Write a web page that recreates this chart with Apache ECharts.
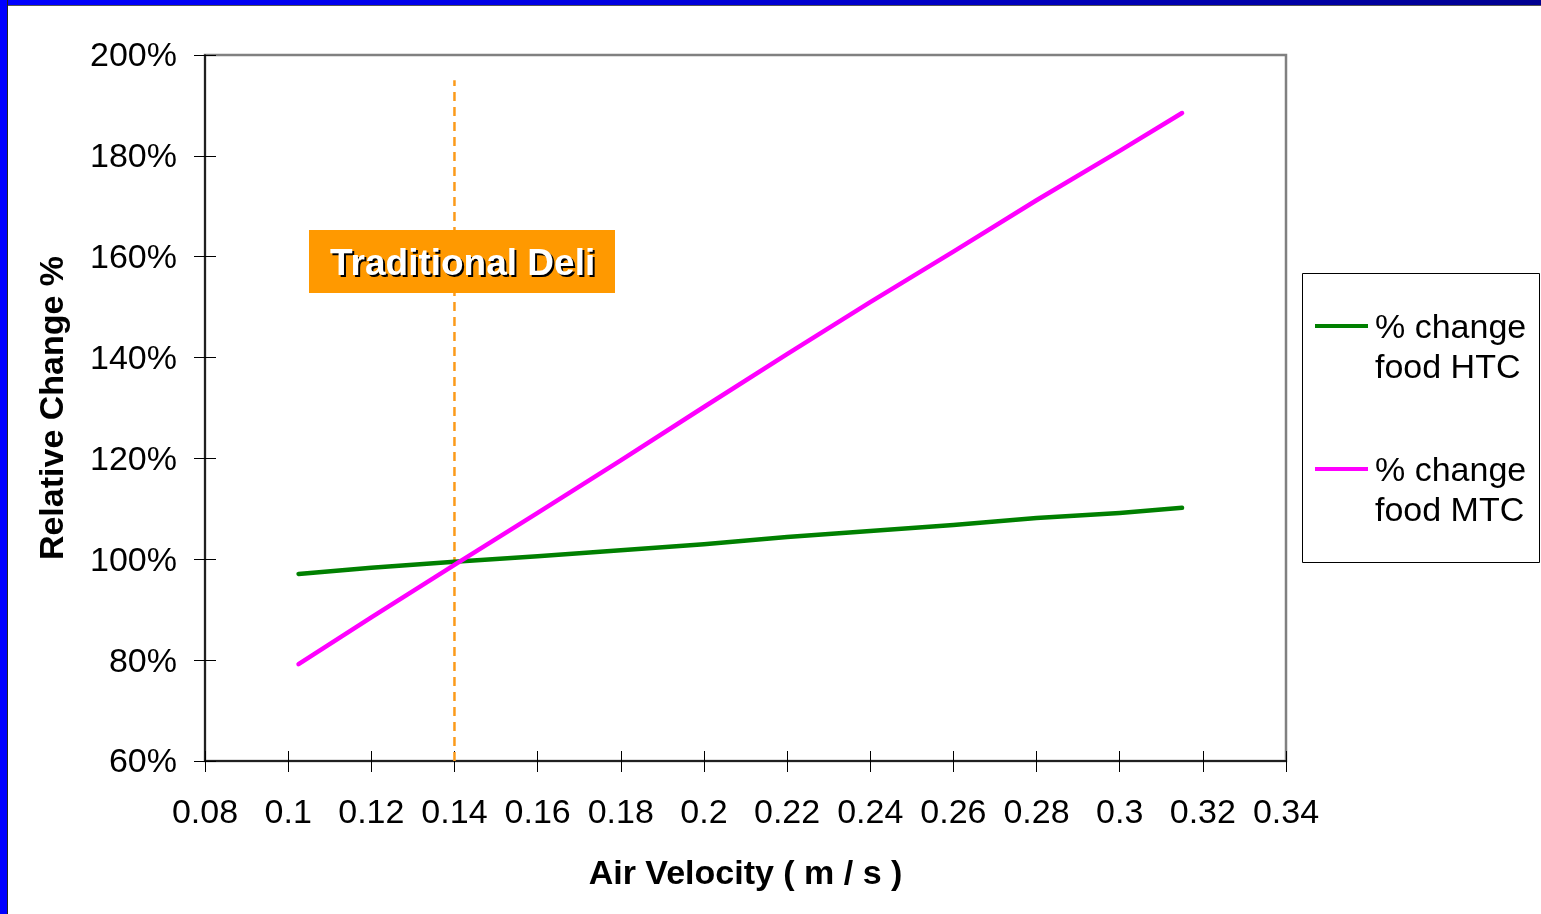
<!DOCTYPE html>
<html>
<head>
<meta charset="utf-8">
<script src="https://cdn.jsdelivr.net/npm/echarts@6/dist/echarts.min.js"></script>
<style>
html,body{margin:0;padding:0;background:#fff;}
#wrap{position:relative;width:1541px;height:914px;overflow:hidden;background:#fff;}
#chart{position:absolute;left:0;top:0;width:1541px;height:914px;}
#topbar{position:absolute;left:0;top:0;width:1541px;height:5px;background:linear-gradient(to right,#0000ff 0%,#0000e0 40%,#000090 100%);border-bottom:1px solid #555;z-index:2;}
#leftbar{position:absolute;left:0;top:0;width:7px;height:914px;background:#0000ff;border-right:1px solid #222;z-index:2;}
</style>
</head>
<body>
<div id="wrap">
<div id="chart"></div>
<div id="topbar"></div>
<div id="leftbar"></div>
</div>
<script>
// ---- data ----
const velocities = [0.1025, 0.12, 0.14, 0.16, 0.18, 0.2, 0.22, 0.24, 0.26, 0.28, 0.3, 0.315];
const htcChange = [97.1, 98.3, 99.5, 100.6, 101.8, 103.0, 104.4, 105.6, 106.8, 108.2, 109.2, 110.2];
const mtcChange = [79.2, 88.5, 98.9, 109.2, 119.6, 130.2, 140.7, 151.0, 161.0, 171.2, 181.0, 188.5];
const seriesNames = ['% change\nfood HTC', '% change\nfood MTC'];
const seriesColors = ['#008000', '#ff00ff'];
const delliVelocity = 0.14;
const delliLineTop = 195;
const annotationText = 'Traditional Deli';
const xTitle = 'Air Velocity ( m / s )';
const yTitle = 'Relative Change %';

const FONT = 'Arial, "Liberation Sans", sans-serif';
const chart = echarts.init(document.getElementById('chart'));

const pairs = arr => velocities.map((v, i) => [v, arr[i]]);

const option = {
  animation: false,
  backgroundColor: '#fff',
  grid: {left: 205, right: 255, top: 55, bottom: 153, show: true, borderColor: '#808080', borderWidth: 2.5, backgroundColor: 'transparent'},
  xAxis: [{
    type: 'value', min: 0.08, max: 0.34, interval: 0.02,
    name: xTitle, nameLocation: 'middle', nameGap: 97,
    nameTextStyle: {fontFamily: FONT, fontSize: 34, fontWeight: 'bold', color: '#000'},
    axisLine: {show: true, onZero: false, lineStyle: {color: '#000', width: 1.5}},
    axisTick: {show: true, inside: false, length: 11, lineStyle: {color: '#000', width: 1}},
    axisLabel: {fontFamily: FONT, fontSize: 34, color: '#000', margin: 36, formatter: v => String(+v.toFixed(2))},
    splitLine: {show: false}
  }, {
    type: 'value', min: 0.08, max: 0.34, interval: 0.02, position: 'bottom',
    axisLine: {show: false}, axisLabel: {show: false}, splitLine: {show: false},
    axisTick: {show: true, inside: true, length: 10, lineStyle: {color: '#000', width: 1}}
  }],
  yAxis: [{
    type: 'value', min: 60, max: 200, interval: 20,
    name: yTitle, nameLocation: 'middle', nameGap: 134, nameRotate: 90,
    nameTextStyle: {fontFamily: FONT, fontSize: 34, fontWeight: 'bold', color: '#000'},
    axisLine: {show: true, onZero: false, lineStyle: {color: '#000', width: 1.5}},
    axisTick: {show: true, inside: false, length: 11, lineStyle: {color: '#000', width: 1}},
    axisLabel: {fontFamily: FONT, fontSize: 34, color: '#000', margin: 28, verticalAlign: 'top', lineHeight: 4, formatter: '{value}%'},
    splitLine: {show: false}
  }, {
    type: 'value', min: 60, max: 200, interval: 20, position: 'left',
    axisLine: {show: false}, axisLabel: {show: false}, splitLine: {show: false},
    axisTick: {show: true, inside: true, length: 11, lineStyle: {color: '#000', width: 1}}
  }],
  series: [
    {
      name: 'Traditional Deli', type: 'line', silent: true, showSymbol: false, symbol: 'none',
      data: [[delliVelocity, 60], [delliVelocity, delliLineTop]],
      lineStyle: {color: '#fb9a1a', width: 2.5, type: [9, 6]}, z: 1
    },
    {
      name: seriesNames[0], type: 'line', showSymbol: false, symbol: 'none',
      data: pairs(htcChange), lineStyle: {color: seriesColors[0], width: 4.5, cap: 'round', join: 'round'}, z: 3
    },
    {
      name: seriesNames[1], type: 'line', showSymbol: false, symbol: 'none',
      data: pairs(mtcChange), lineStyle: {color: seriesColors[1], width: 4.5, cap: 'round', join: 'round'}, z: 3
    }
  ],
  graphic: [
    // annotation box
    {type: 'rect', left: 309, top: 230, shape: {width: 306, height: 63}, style: {fill: '#ff9900'}, z: 10},
    {type: 'text', left: 332, top: 248, z: 11,
      style: {text: annotationText, fontFamily: FONT, fontSize: 37, fontWeight: 'bold', fill: '#000'}},
    {type: 'text', left: 330, top: 246, z: 12,
      style: {text: annotationText, fontFamily: FONT, fontSize: 37, fontWeight: 'bold', fill: '#fff'}},
    // legend
    {type: 'rect', left: 1302, top: 273, shape: {width: 237, height: 289}, style: {fill: '#fff', stroke: '#000', lineWidth: 1}, z: 10},
    {type: 'line', shape: {x1: 1315, y1: 326, x2: 1368, y2: 326}, style: {stroke: seriesColors[0], lineWidth: 4}, z: 11},
    {type: 'text', left: 1375, top: 309, z: 11,
      style: {text: seriesNames[0], fontFamily: FONT, fontSize: 34, lineHeight: 40, fill: '#000'}},
    {type: 'line', shape: {x1: 1315, y1: 469, x2: 1368, y2: 469}, style: {stroke: seriesColors[1], lineWidth: 4}, z: 11},
    {type: 'text', left: 1375, top: 452, z: 11,
      style: {text: seriesNames[1], fontFamily: FONT, fontSize: 34, lineHeight: 40, fill: '#000'}}
  ]
};
chart.setOption(option);
</script>
</body>
</html>
